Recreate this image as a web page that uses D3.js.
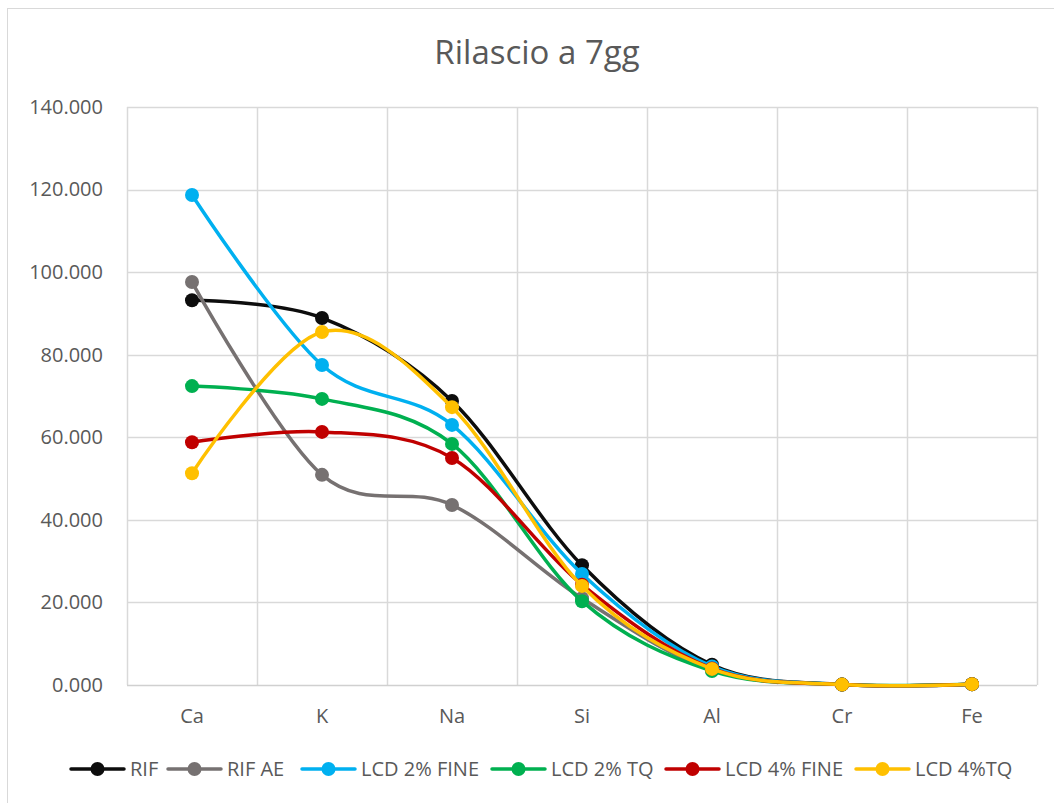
<!DOCTYPE html>
<html>
<head>
<meta charset="utf-8">
<script src="https://cdn.jsdelivr.net/npm/d3@7"></script>
<style>
  html, body { margin: 0; padding: 0; background: #fff; }
  svg { display: block; }
  text { font-family: "Open Sans", "Noto Sans", sans-serif; fill: #595959; }
</style>
</head>
<body>
<svg id="chart" width="1054" height="803"></svg>
<script>
// Elements released after 7 days, per mix
const categories = ["Ca", "K", "Na", "Si", "Al", "Cr", "Fe"];
const seriesNames = ["RIF", "RIF AE", "LCD 2% FINE", "LCD 2% TQ", "LCD 4% FINE", "LCD 4%TQ"];
const seriesColors = ["#0d0d0d", "#767171", "#00b0f0", "#00b050", "#c00000", "#ffc000"];
const rif       = [93.2, 88.9, 68.8, 29.0, 4.9, 0.1, 0.2];
const rifAE     = [97.6, 50.9, 43.6, 21.0, 3.6, 0.1, 0.2];
const lcd2Fine  = [118.7, 77.5, 63.0, 26.9, 4.5, 0.1, 0.2];
const lcd2TQ    = [72.4, 69.3, 58.4, 20.3, 3.4, 0.1, 0.2];
const lcd4Fine  = [58.8, 61.3, 55.0, 24.3, 4.0, 0.1, 0.2];
const lcd4TQ    = [51.3, 85.5, 67.3, 24.0, 3.9, 0.1, 0.2];
const seriesValues = [rif, rifAE, lcd2Fine, lcd2TQ, lcd4Fine, lcd4TQ];
const yTicks = [0, 20, 40, 60, 80, 100, 120, 140];
const chartTitle = "Rilascio a 7gg";

const svg = d3.select("#chart");
const plot = { left: 127, right: 1037, top: 107, bottom: 685 };

// outer chart frame
svg.append("rect")
  .attr("x", 7.5).attr("y", 8.5)
  .attr("width", 1100).attr("height", 900)
  .attr("fill", "none").attr("stroke", "#d9d9d9").attr("stroke-width", 1);

const x = d3.scaleBand().domain(categories).range([plot.left, plot.right]).paddingInner(0).paddingOuter(0);
const y = d3.scaleLinear().domain([0, 140]).range([plot.bottom, plot.top]);
const fmt = d3.format(".3f");

// horizontal gridlines
svg.append("g").selectAll("line").data(yTicks.filter(d => d > 0)).join("line")
  .attr("x1", plot.left).attr("x2", plot.right)
  .attr("y1", d => Math.round(y(d)) + 0.5).attr("y2", d => Math.round(y(d)) + 0.5)
  .attr("stroke", "#d9d9d9").attr("stroke-width", 1.5);

// vertical gridlines at category boundaries
const bounds = categories.map(c => x(c)).concat([plot.right]);
svg.append("g").selectAll("line").data(bounds).join("line")
  .attr("x1", d => Math.round(d) + 0.5).attr("x2", d => Math.round(d) + 0.5)
  .attr("y1", plot.top).attr("y2", plot.bottom)
  .attr("stroke", "#d9d9d9").attr("stroke-width", 1.5);

// baseline
svg.append("line")
  .attr("x1", plot.left).attr("x2", plot.right)
  .attr("y1", y(0) + 0.5).attr("y2", y(0) + 0.5)
  .attr("stroke", "#d0d0d0").attr("stroke-width", 1.5);

// y axis labels
const yAxis = d3.axisLeft(y).tickValues(yTicks).tickFormat(fmt).tickSize(0).tickPadding(24);
const ya = svg.append("g").attr("transform", `translate(${plot.left},0)`).call(yAxis);
ya.select(".domain").remove();
ya.selectAll("text").attr("font-size", 20).attr("fill", "#595959")
  .style("font-family", '"Open Sans", sans-serif');

// x axis labels
const xAxis = d3.axisBottom(x).tickSize(0).tickPadding(24);
const xa = svg.append("g").attr("transform", `translate(0,${plot.bottom})`).call(xAxis);
xa.select(".domain").remove();
xa.selectAll("text").attr("font-size", 20).attr("fill", "#595959")
  .style("font-family", '"Open Sans", sans-serif');

// smoothed series lines
const line = d3.line()
  .x((d, i) => x(categories[i]) + x.bandwidth() / 2)
  .y(d => y(d))
  .curve(d3.curveCardinal.tension(0));

const g = svg.append("g");
seriesValues.forEach((vals, s) => {
  const sg = g.append("g");
  sg.append("path").datum(vals)
    .attr("d", line)
    .attr("fill", "none")
    .attr("stroke", seriesColors[s])
    .attr("stroke-width", 3.5)
    .attr("stroke-linecap", "round");
  sg.selectAll("circle").data(vals).join("circle")
    .attr("cx", (d, i) => x(categories[i]) + x.bandwidth() / 2)
    .attr("cy", d => y(d))
    .attr("r", 7)
    .attr("fill", seriesColors[s]);
});

// title
svg.append("text")
  .attr("x", 537).attr("y", 64)
  .attr("text-anchor", "middle")
  .attr("font-size", 33)
  .text(chartTitle);

// legend
const legendX = [71, 168, 302, 492, 666, 856];
const lg = svg.append("g").attr("transform", "translate(0,769)");
seriesNames.forEach((name, s) => {
  const item = lg.append("g").attr("transform", `translate(${legendX[s]},0)`);
  item.append("line").attr("x1", 0).attr("x2", 53).attr("y1", 0).attr("y2", 0)
    .attr("stroke", seriesColors[s]).attr("stroke-width", 3.5).attr("stroke-linecap", "round");
  item.append("circle").attr("cx", 26.5).attr("cy", 0).attr("r", 7).attr("fill", seriesColors[s]);
  item.append("text").attr("x", 59).attr("y", 7).attr("font-size", 20).text(name);
});
</script>
</body>
</html>
